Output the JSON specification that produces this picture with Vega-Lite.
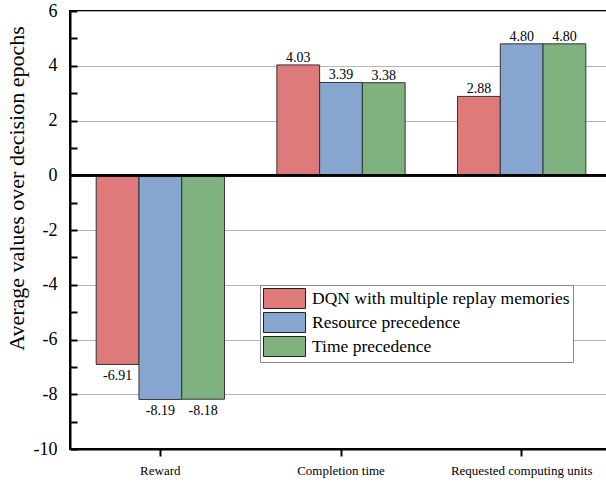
{
  "$schema": "https://vega.github.io/schema/vega-lite/v6.json",
  "width": 542,
  "height": 438,
  "autosize": "none",
  "padding": {"left": 70, "top": 11, "right": -6, "bottom": 36},
  "background": "white",
  "config": {
    "font": "Liberation Serif",
    "view": {"stroke": "black", "strokeWidth": 2}
  },
  "data": {
    "values": [
      {"metric": "Reward", "method": "DQN with multiple replay memories", "value": -6.91},
      {"metric": "Reward", "method": "Resource precedence", "value": -8.19},
      {"metric": "Reward", "method": "Time precedence", "value": -8.18},
      {"metric": "Completion time", "method": "DQN with multiple replay memories", "value": 4.03},
      {"metric": "Completion time", "method": "Resource precedence", "value": 3.39},
      {"metric": "Completion time", "method": "Time precedence", "value": 3.38},
      {"metric": "Requested computing units", "method": "DQN with multiple replay memories", "value": 2.88},
      {"metric": "Requested computing units", "method": "Resource precedence", "value": 4.80},
      {"metric": "Requested computing units", "method": "Time precedence", "value": 4.80}
    ]
  },
  "transform": [
    {"calculate": "replace(format(datum.value, '.2f'), '\u2212', '-')", "as": "lbl"}
  ],
  "encoding": {
    "x": {
      "field": "metric", "type": "nominal",
      "sort": ["Reward", "Completion time", "Requested computing units"],
      "scale": {"paddingInner": 0.29, "paddingOuter": 0.145},
      "axis": {
        "title": null, "labelAngle": 0, "labelFontSize": 13, "labelColor": "black",
        "domainColor": "black", "domainWidth": 2, "tickColor": "black", "tickWidth": 2,
        "tickSize": 7, "labelPadding": 8, "grid": false
      }
    },
    "xOffset": {
      "field": "method", "type": "nominal",
      "sort": ["DQN with multiple replay memories", "Resource precedence", "Time precedence"],
      "scale": {"paddingInner": 0, "paddingOuter": 0}
    },
    "y": {
      "field": "value", "type": "quantitative",
      "scale": {"domain": [-10, 6], "nice": false, "zero": false},
      "axis": {
        "title": "Average values over decision epochs",
        "titleFontSize": 22, "titleFontWeight": "normal", "titleColor": "black", "titlePadding": 5,
        "titleY": 177,
        "values": [-10, -9, -8, -7, -6, -5, -4, -3, -2, -1, 0, 1, 2, 3, 4, 5, 6],
        "labelExpr": "datum.value % 2 == 0 ? toString(datum.value) : ''",
        "labelFontSize": 18, "labelColor": "black", "labelPadding": 20,
        "domainColor": "black", "domainWidth": 2, "tickColor": "black", "tickWidth": 2,
        "tickSize": -7,
        "grid": true, "gridColor": "#b4b4b4", "gridWidth": 1,
        "gridOpacity": {"condition": {"test": "datum.value % 2 != 0 || datum.value == 0", "value": 0}, "value": 1}
      }
    }
  },
  "layer": [
    {
      "mark": {"type": "bar", "stroke": "#333333", "strokeWidth": 1},
      "encoding": {
        "color": {
          "field": "method", "type": "nominal",
          "sort": ["DQN with multiple replay memories", "Resource precedence", "Time precedence"],
          "scale": {
            "domain": ["DQN with multiple replay memories", "Resource precedence", "Time precedence"],
            "range": ["#de7a7a", "#86a6cf", "#7fb27f"]
          },
          "legend": {
            "title": null, "orient": "none", "legendX": 190, "legendY": 274,
            "direction": "vertical",
            "symbolType": "M-1,-1H3.2V1H-1Z", "symbolSize": 400,
            "symbolStrokeColor": "#222222", "symbolStrokeWidth": 1,
            "labelFontSize": 17.5, "labelColor": "black", "labelOffset": 28,
            "rowPadding": -1, "padding": 3,
            "strokeColor": "#8a8a8a", "fillColor": "white",
            "labelLimit": 400
          }
        }
      }
    },
    {
      "mark": {"type": "rule", "color": "black", "strokeWidth": 2},
      "encoding": {"y": {"datum": 0}, "x": null, "xOffset": null}
    },
    {
      "transform": [{"filter": "datum.value >= 0"}],
      "mark": {"type": "text", "baseline": "alphabetic", "dy": -3, "fontSize": 14, "color": "black"},
      "encoding": {"text": {"field": "lbl"}}
    },
    {
      "transform": [{"filter": "datum.value < 0"}],
      "mark": {"type": "text", "baseline": "top", "dy": 5, "fontSize": 14, "color": "black"},
      "encoding": {"text": {"field": "lbl"}}
    }
  ]
}
